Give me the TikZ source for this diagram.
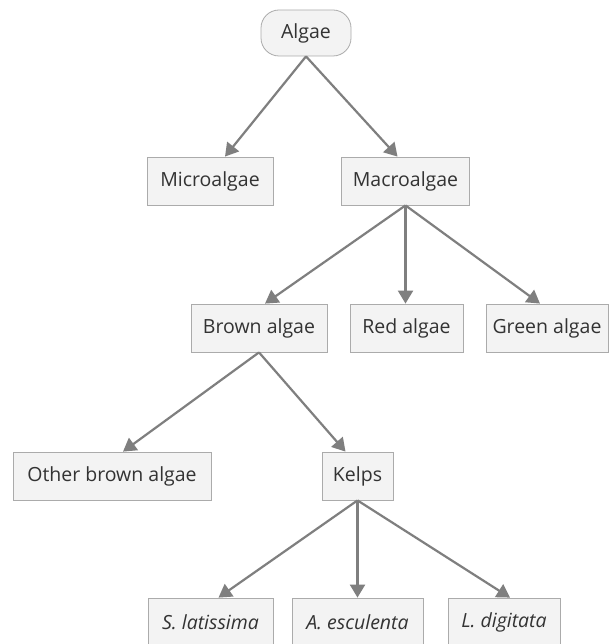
\documentclass[tikz,border=0pt]{standalone}
\usepackage{fontspec}
\setmainfont{Open Sans}
\usetikzlibrary{arrows.meta}
\definecolor{boxfill}{HTML}{F3F3F3}
\definecolor{boxline}{HTML}{ABABAB}
\definecolor{linkcol}{HTML}{7F7F7F}
\definecolor{txtcol}{HTML}{333333}
\begin{document}
\begin{tikzpicture}[x=1pt,y=-1pt,
  taxon/.style={draw=boxline,fill=boxfill,line width=0.8pt,text=txtcol,
    font=\fontsize{19.5}{22}\selectfont,minimum height=48pt,inner sep=0pt},
  rootbox/.style={taxon,rounded corners=18pt,minimum height=46pt},
  link/.style={draw=linkcol,line width=2.2pt,
    -{Triangle[length=13pt,width=15pt]}}]
\useasboundingbox (0,0) rectangle (609,644);
\fill[white] (0,0) rectangle (609,644);

% top level
\node[rootbox,minimum width=90pt] (algae) at (306,33) {Algae};

% second level
\node[taxon,minimum width=126pt] (micro) at (210,181) {Microalgae};
\node[taxon,minimum width=128pt] (macro) at (405.5,181) {Macroalgae};

% macroalgae groups
\node[taxon,minimum width=136pt] (brown) at (259,328) {Brown algae};
\node[taxon,minimum width=113pt] (red) at (406.5,328) {Red algae};
\node[taxon,minimum width=122pt] (green) at (547,328) {Green algae};

% brown algae groups
\node[taxon,minimum width=198pt] (other) at (112,476) {Other brown algae};
\node[taxon,minimum width=71pt] (kelps) at (357.5,476) {Kelps};

% kelp species
\node[taxon,minimum width=125pt] (slat) at (210.5,622) {\itshape S. latissima};
\node[taxon,minimum width=131pt] (aesc) at (357.5,622) {\itshape A. esculenta};
\node[taxon,minimum width=112pt] (ldig) at (504,622) {\itshape L. digitata};

% connectors
\draw[link] (algae.south) -- ([xshift=15pt]micro.north);
\draw[link] (algae.south) -- ([xshift=-8pt]macro.north);
\draw[link] (macro.south) -- ([xshift=6pt]brown.north);
\draw[link] (macro.south) -- ([xshift=-1pt]red.north);
\draw[link] (macro.south) -- ([xshift=-7pt]green.north);
\draw[link] (brown.south) -- ([xshift=11pt]other.north);
\draw[link] (brown.south) -- ([xshift=-12pt]kelps.north);
\draw[link] (kelps.south) -- ([xshift=8pt]slat.north);
\draw[link] (kelps.south) -- (aesc.north);
\draw[link] (kelps.south) -- ([xshift=6pt]ldig.north);
\end{tikzpicture}
\end{document}
